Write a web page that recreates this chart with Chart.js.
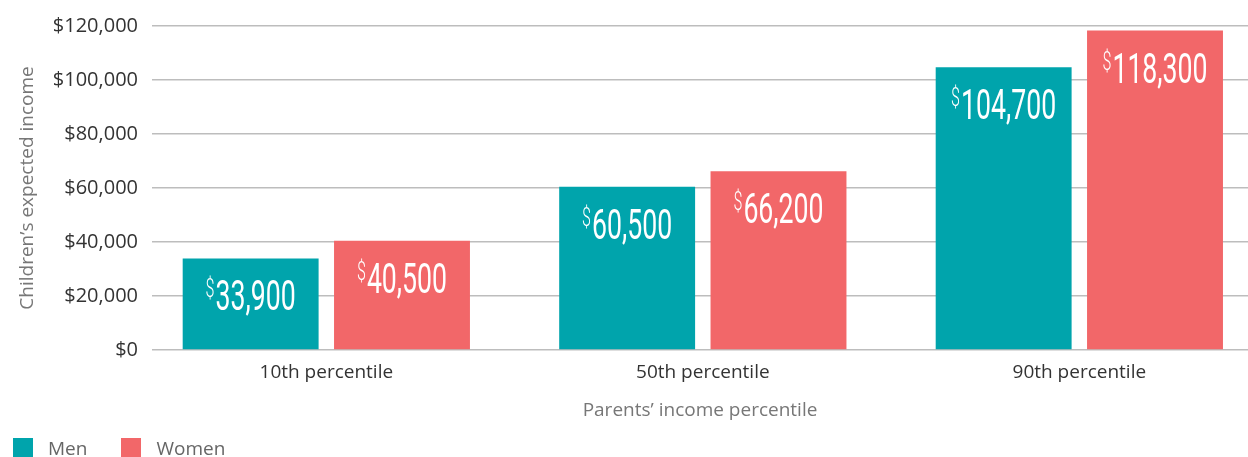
<!DOCTYPE html>
<html>
<head>
<meta charset="utf-8">
<script src="https://cdn.jsdelivr.net/npm/chart.js@4.4.1/dist/chart.umd.min.js"></script>
<style>
  html, body { margin: 0; padding: 0; background: #fff; }
  #wrap { position: relative; width: 1248px; height: 457px; overflow: hidden; }
  #legend { position: absolute; left: 13px; top: 438px; font-family: 'Open Sans', sans-serif; font-size: 19px; color: #666; display: flex; }
  #legend span.item { display: flex; align-items: center; margin-right: 34px; line-height: 20px; }
  #legend span.box { display: inline-block; width: 20px; height: 20px; margin-right: 15px; }
</style>
</head>
<body>
<div id="wrap">
  <canvas id="chart" width="1248" height="457"></canvas>
  <div id="legend"></div>
</div>
<script>
// Données
const categories = ['10th percentile', '50th percentile', '90th percentile'];
const menValues = [33900, 60500, 104700];
const womenValues = [40500, 66200, 118300];
const yTicks = [0, 20000, 40000, 60000, 80000, 100000, 120000];

const seriesNames = ['Men', 'Women'];
const seriesColors = ['#00A4AC', '#F26769'];

function money(v) {
    return '$' + v.toLocaleString('en-US');
}

// Étiquettes de valeur dans les barres
const valueLabels = {
    id: 'valueLabels',
    afterDatasetsDraw(chart) {
        const ctx = chart.ctx;
        chart.data.datasets.forEach((ds, di) => {
            const meta = chart.getDatasetMeta(di);
            meta.data.forEach((bar, i) => {
                const num = ds.data[i].y.toLocaleString('en-US');
                const sx = 0.62;
                ctx.save();
                ctx.fillStyle = '#ffffff';
                ctx.textBaseline = 'alphabetic';
                ctx.font = '400 43px Roboto';
                const numW = ctx.measureText(num).width * sx;
                ctx.font = '300 26px Roboto';
                const dolW = ctx.measureText('$').width * sx;
                const total = numW + dolW + 1;
                const left = bar.x - total / 2;
                const base = bar.y + 52;
                ctx.translate(left, base);
                ctx.scale(sx, 1);
                ctx.font = '300 26px Roboto';
                ctx.fillText('$', 0, -13);
                ctx.font = '400 43px Roboto';
                ctx.fillText(num, (dolW + 1) / sx, 0);
                ctx.restore();
            });
        });
    }
};

const ctx = document.getElementById('chart').getContext('2d');
const chart = new Chart(ctx, {
    type: 'bar',
    data: {
        datasets: [
            {
                label: seriesNames[0],
                data: menValues.map((v, i) => ({ x: i, y: v })),
                backgroundColor: seriesColors[0]
            },
            {
                label: seriesNames[1],
                data: womenValues.map((v, i) => ({ x: i, y: v })),
                backgroundColor: seriesColors[1]
            }
        ]
    },
    options: {
        responsive: false,
        animation: false,
        categoryPercentage: 0.804,
        barPercentage: 0.898,
        layout: { padding: { left: 0, right: 0, top: 25, bottom: 27 } },
        plugins: {
            legend: { display: false },
            tooltip: { enabled: false }
        },
        scales: {
            x: {
                type: 'linear',
                offset: false,
                bounds: 'data',
                min: -0.463,
                max: 2.448,
                afterBuildTicks: (s) => { s.ticks = categories.map((c, i) => ({ value: i })); },
                afterFit: (s) => { s.height = 80; },
                grid: { display: false, drawTicks: false },
                border: { display: false },
                ticks: {
                    padding: 11,
                    color: '#333',
                    font: { family: 'Open Sans', size: 19 },
                    callback: (v) => categories[v]
                },
                title: {
                    display: true,
                    text: 'Parents\u2019 income percentile',
                    color: '#777',
                    font: { family: 'Open Sans', size: 19 },
                    padding: { top: 0, bottom: 8 }
                }
            },
            y: {
                min: 0,
                max: 120000,
                afterBuildTicks: (s) => { s.ticks = yTicks.map(v => ({ value: v })); },
                afterFit: (s) => { s.width = 152; },
                grid: { color: '#bdbdbd', lineWidth: 1.5, drawTicks: false },
                border: { display: false },
                ticks: {
                    padding: 14,
                    color: '#333',
                    font: { family: 'Open Sans', size: 20 },
                    callback: (v) => money(v)
                },
                title: {
                    display: true,
                    text: 'Children\u2019s expected income',
                    color: '#777',
                    font: { family: 'Open Sans', size: 19 },
                    padding: { top: 16, bottom: 0 }
                }
            }
        }
    },
    plugins: [valueLabels]
});

// Légende HTML
const legendEl = document.getElementById('legend');
seriesNames.forEach((name, i) => {
    const item = document.createElement('span');
    item.className = 'item';
    const box = document.createElement('span');
    box.className = 'box';
    box.style.background = seriesColors[i];
    item.appendChild(box);
    item.appendChild(document.createTextNode(name));
    legendEl.appendChild(item);
});
</script>
</body>
</html>
